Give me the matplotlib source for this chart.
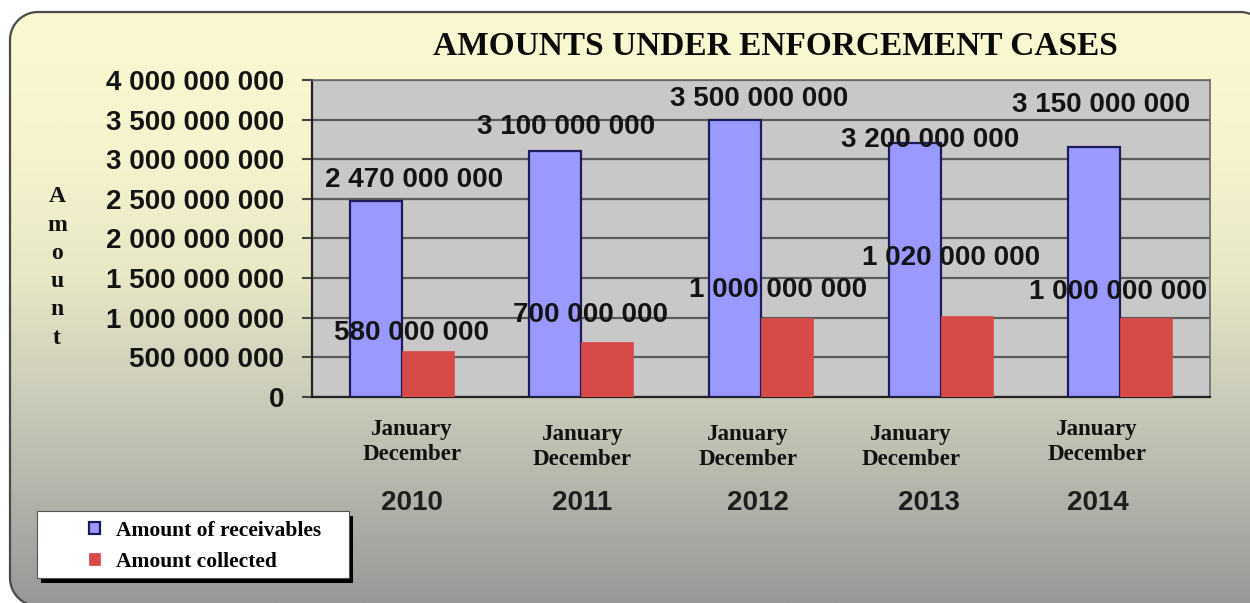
import numpy as np
import matplotlib
matplotlib.use('Agg')
import matplotlib.pyplot as plt
from matplotlib.patches import Polygon, Rectangle
from matplotlib.colors import LinearSegmentedColormap
from matplotlib.ticker import MultipleLocator, FuncFormatter

# ---------------- data ----------------
years = ['2010', '2011', '2012', '2013', '2014']
period_start = ['January', 'January', 'January', 'January', 'January']
period_end = ['December', 'December', 'December', 'December', 'December']
receivables = [2470000000, 3100000000, 3500000000, 3200000000, 3150000000]
collected = [580000000, 700000000, 1000000000, 1020000000, 1000000000]
series_names = ['Amount of receivables', 'Amount collected']
title = 'AMOUNTS UNDER ENFORCEMENT CASES'
y_label = 'Amount'
y_max = 4000000000
y_step = 500000000

# ---------------- layout / style ----------------
W, H = 1250, 603
SANS = ['Liberation Sans', 'DejaVu Sans']
SERIF = ['Liberation Serif', 'DejaVu Serif']
BLUE = '#9999FF'
BLUE_EDGE = '#1C1C5A'
RED = '#D84A47'
TXT = '#141414'

# value label offsets in pixels (dx, dy up) relative to bar top centre
blue_lbl_off = [(38, 21), (11, 24), (24, 21), (16, 3), (7, 42)]
red_lbl_off = [(-16, 18), (-17, 27), (-9, 28), (-16, 58), (-28, 26)]
# category label offsets (dx px, dy px below axis)
cat_dx = [10, 1, -13, -30, -23]
cat_dy = [22, 27, 27, 27, 22]
year_dx = [10, 1, -3, -12, -22]

fig = plt.figure(figsize=(W / 100, H / 100), dpi=100)
fig.patch.set_facecolor('white')

# background panel with vertical gradient (pixel coordinates, y downwards)
bg = fig.add_axes([0, 0, 1, 1], zorder=-10)
bg.set_xlim(0, W)
bg.set_ylim(H, 0)
bg.axis('off')
cmap = LinearSegmentedColormap.from_list('bg', [
    (0.00, '#FBF9D2'), (0.25, '#F6F4CE'), (0.46, '#E8E7C6'),
    (0.66, '#CBCBBA'), (0.80, '#B7B7AD'), (1.00, '#989898')])
grad = np.linspace(0, 1, 400).reshape(-1, 1)
im = bg.imshow(grad, cmap=cmap, extent=(0, W, H, 0), aspect='auto',
               origin='upper', zorder=1, interpolation='bilinear')


def corner(cx, cy, r, a0, a1, n=20):
    t = np.radians(np.linspace(a0, a1, n))
    return np.column_stack([cx + r * np.cos(t), cy - r * np.sin(t)])


R = 28
L, T, Rt, B = 10, 12, 1268, 606
outline = np.vstack([
    corner(L + R, T + R, R, 180, 90),
    corner(Rt - R, T + R, R, 90, 0),
    corner(Rt - R, B - R, R, 0, -90),
    corner(L + R, B - R, R, 270, 180),
])
panel = Polygon(outline, closed=True, transform=bg.transData,
                facecolor='none', edgecolor='#4A4A4A', lw=1.6, zorder=3)
bg.add_patch(panel)
im.set_clip_path(panel)

# legend box with shadow
bg.add_patch(Rectangle((41, 516), 312, 67, facecolor='black', edgecolor='none', zorder=4))
bg.add_patch(Rectangle((37, 511), 312, 67, facecolor='white', edgecolor='#555555', lw=0.8, zorder=5))

# ---------------- main axes ----------------
ax = fig.add_axes([312 / W, (H - 397) / H, 898 / W, 317 / H])
ax.set_facecolor('#C8C8C8')
x = np.arange(len(years))
bw = 0.29
b1 = ax.bar(x - bw / 2, receivables, bw, color=BLUE, edgecolor=BLUE_EDGE,
            lw=1.6, label=series_names[0], zorder=3)
b2 = ax.bar(x + bw / 2, collected, bw, color=RED, edgecolor=RED,
            lw=0.5, label=series_names[1], zorder=3)

ax.set_xlim(-0.5, len(years) - 0.5)
ax.set_ylim(0, y_max)
ax.yaxis.set_major_locator(MultipleLocator(y_step))
ax.yaxis.set_major_formatter(FuncFormatter(lambda v, p: f'{v:,.0f}'.replace(',', ' ')))
ax.yaxis.grid(True, color='#5C5C5C', lw=1.6, zorder=1)
ax.set_axisbelow(True)
ax.tick_params(axis='y', length=7, width=1.5, color='#444444', pad=13,
               labelsize=20, labelcolor=TXT)
for lab in ax.get_yticklabels():
    lab.set_fontfamily(SANS)
    lab.set_fontweight('bold')
ax.set_xticks(x)
ax.tick_params(axis='x', length=0, labelbottom=False)
for side in ['left', 'bottom']:
    ax.spines[side].set_color('#222222')
    ax.spines[side].set_linewidth(1.6)
for side in ['top', 'right']:
    ax.spines[side].set_color('#6A6A6A')
    ax.spines[side].set_linewidth(1.2)

# value labels
for i in range(len(years)):
    r = b1[i]
    ax.annotate(f'{receivables[i]:,.0f}'.replace(',', ' '),
                (r.get_x() + r.get_width() / 2, r.get_height()),
                xytext=blue_lbl_off[i], textcoords='offset pixels',
                ha='center', va='center', fontsize=20, fontweight='bold',
                family=SANS, color=TXT, zorder=5, annotation_clip=False)
    r = b2[i]
    ax.annotate(f'{collected[i]:,.0f}'.replace(',', ' '),
                (r.get_x() + r.get_width() / 2, r.get_height()),
                xytext=red_lbl_off[i], textcoords='offset pixels',
                ha='center', va='center', fontsize=20, fontweight='bold',
                family=SANS, color=TXT, zorder=5, annotation_clip=False)

# category labels
for i in range(len(years)):
    ax.annotate(period_start[i], (x[i], 0), xycoords=('data', 'axes fraction'),
                xytext=(cat_dx[i], -cat_dy[i]), textcoords='offset pixels',
                ha='center', va='top', fontsize=16.5, fontweight='bold',
                family=SERIF, color='#111111', annotation_clip=False)
    ax.annotate(period_end[i], (x[i], 0), xycoords=('data', 'axes fraction'),
                xytext=(cat_dx[i], -cat_dy[i] - 25), textcoords='offset pixels',
                ha='center', va='top', fontsize=16.5, fontweight='bold',
                family=SERIF, color='#111111', annotation_clip=False)
    ax.annotate(years[i], (x[i], 0), xycoords=('data', 'axes fraction'),
                xytext=(year_dx[i], -113), textcoords='offset pixels',
                ha='center', va='baseline', fontsize=20, fontweight='bold',
                family=SANS, color='#1E1E1E', annotation_clip=False)

# title
fig.text(775 / W, 1 - 55 / H, title, ha='center', va='baseline', fontsize=24,
         fontweight='bold', family=SERIF, color='#0A0A0A')

# stacked y label
for k, ch in enumerate(y_label):
    fig.text(57 / W, 1 - (197 + k * 28.2) / H, ch, ha='center', va='center',
             fontsize=17, fontweight='bold', family=SERIF, color='#111111')

# legend
leg = fig.legend(handles=[b1, b2], labels=series_names, loc='upper left',
                 bbox_to_anchor=(89 / W, 1 - 521 / H), frameon=False,
                 borderpad=0, borderaxespad=0, handlelength=0.5,
                 handleheight=0.5, handletextpad=0.75, labelspacing=0.5,
                 prop={'family': SERIF, 'weight': 'bold', 'size': 15.5})

fig.savefig('out.png', dpi=100)
